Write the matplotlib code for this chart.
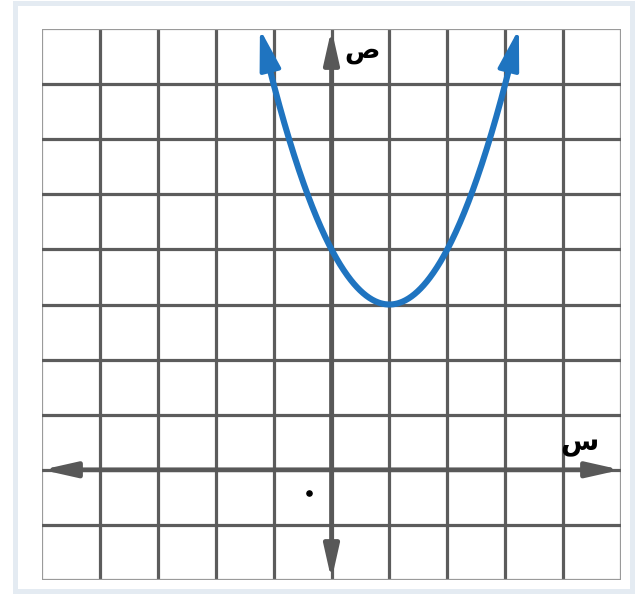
import numpy as np
import matplotlib
matplotlib.use("Agg")
import matplotlib.pyplot as plt
from matplotlib.patches import Rectangle

# Data
x_range = [-5, 5]
y_range = [-2, 8]
vertex = (1, 3)          # y = a (x - h)^2 + k
a_coef = 1
y_top = 8                # arrow tips of the parabola
dot_point = (-0.38, -0.42)
x_label = "س"
y_label = "ص"

blue = "#1f74c0"
grid_col = "#5c5c5c"
axis_col = "#585858"

fig = plt.figure(figsize=(6.35, 5.96), dpi=100)
fig.patches.append(Rectangle((14.5/635, 5.5/596), (632-14.5)/635, (593-5.5)/596,
                             transform=fig.transFigure, fill=False,
                             edgecolor="#e4ebf2", linewidth=3.6, zorder=0))

ax = fig.add_axes([42/635, 16/596, 579/635, 551/596])
ax.set_xlim(*x_range)
ax.set_ylim(*y_range)
ax.set_axis_off()

# grid
for gx in range(x_range[0], x_range[1] + 1):
    edge = gx in x_range
    ax.axvline(gx, color="#9a9a9a" if edge else grid_col,
               lw=1.6 if edge else 2.3, zorder=1)
for gy in range(y_range[0], y_range[1] + 1):
    edge = gy in y_range
    ax.axhline(gy, color="#9a9a9a" if edge else grid_col,
               lw=1.6 if edge else 2.3, zorder=1)

# axes with arrows
for xy, xytext in (((x_range[1], 0), (x_range[0], 0)),
                   ((0, y_range[1]), (0, y_range[0]))):
    ax.annotate("", xy=xy, xytext=xytext,
                arrowprops=dict(arrowstyle="<|-|>,head_length=2.0,head_width=0.45",
                                color=axis_col, lw=3.4, shrinkA=0, shrinkB=0),
                zorder=2)

# parabola
h, k = vertex
half = np.sqrt((y_top - k) / a_coef)
xs = np.linspace(h - half + 0.15, h + half - 0.15, 400)
ys = a_coef * (xs - h) ** 2 + k
ax.plot(xs, ys, color=blue, lw=4.4, solid_capstyle="butt", zorder=3)

for sgn in (-1, 1):
    tip_x = h + sgn * half
    back_x = h + sgn * (half - 0.3)
    tip = (tip_x, a_coef * (tip_x - h) ** 2 + k)
    back = (back_x, a_coef * (back_x - h) ** 2 + k)
    ax.annotate("", xy=tip, xytext=back,
                arrowprops=dict(arrowstyle="-|>,head_length=2.5,head_width=0.65",
                                color=blue, lw=3.0, shrinkA=0, shrinkB=0),
                zorder=4)

# dot
ax.scatter([dot_point[0]], [dot_point[1]], s=14, color="black", zorder=5)

# labels
ax.text(0.22, 7.6, y_label, fontsize=19, fontweight="bold", family="DejaVu Sans",
        ha="left", va="center", color="black", zorder=6)
ax.text(4.28, 0.48, x_label, fontsize=20, fontweight="bold", family="DejaVu Sans",
        ha="center", va="center", color="black", zorder=6)

fig.savefig("out.png", dpi=100, facecolor="white")
